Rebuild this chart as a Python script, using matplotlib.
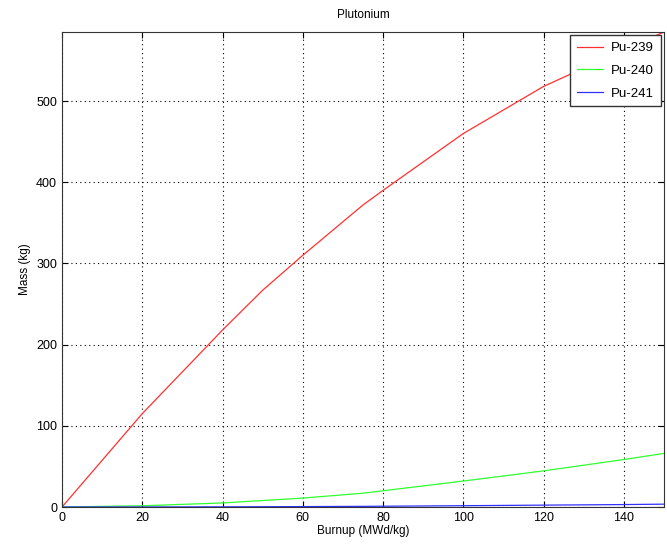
import matplotlib
matplotlib.use("Agg")
import matplotlib.pyplot as plt

plt.rcParams['font.family'] = ['Liberation Sans', 'DejaVu Sans']

burnup = [0, 20, 40, 50, 60, 75, 80, 100, 120, 140, 150]
pu239 = [0, 115, 218, 267, 310, 372, 390, 460, 518, 563, 585]
pu240 = [0, 1.5, 5, 8, 11, 17, 20, 32, 44.5, 58.5, 66]
pu241 = [0, 0.05, 0.2, 0.35, 0.5, 0.8, 0.95, 1.6, 2.3, 3.0, 3.5]

fig = plt.figure(figsize=(6.67, 5.49), dpi=100)
ax = fig.add_axes([0.093, 0.0765, 0.9025, 0.8652])
ax.plot(burnup, pu239, color='#ff3030', lw=0.9, label='Pu-239')
ax.plot(burnup, pu240, color='#30ff30', lw=0.9, label='Pu-240')
ax.plot(burnup, pu241, color='#3030ff', lw=0.9, label='Pu-241')
ax.set_xlim(0, 150)
ax.set_ylim(0, 585)
ax.set_xticks([0, 20, 40, 60, 80, 100, 120, 140])
ax.set_yticks([0, 100, 200, 300, 400, 500])
ax.grid(True, color='black', linestyle=(0, (1, 3)), linewidth=0.8)
ax.tick_params(direction='in', top=True, right=True, labelsize=9, length=4)
for s in ax.spines.values():
    s.set_color('#333333')
ax.set_xlabel('Burnup (MWd/kg)', fontsize=8.5, labelpad=1)
ax.set_ylabel('Mass (kg)', fontsize=8.5)
ax.set_title('Plutonium', fontsize=8.5, pad=10)
leg = ax.legend(loc='upper right', fontsize=9.5, fancybox=False, framealpha=1,
                edgecolor='#333333', borderaxespad=0.25, handlelength=2.0,
                labelspacing=0.8, borderpad=0.5, handletextpad=0.6)
fig.savefig('out.png', dpi=100)
